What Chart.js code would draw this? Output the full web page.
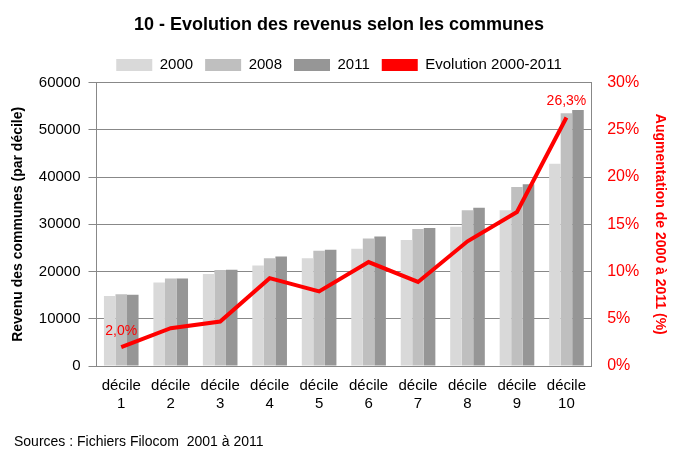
<!DOCTYPE html>
<html><head><meta charset="utf-8">
<script src="https://cdn.jsdelivr.net/npm/chart.js@4/dist/chart.umd.min.js"></script>
<style>body{margin:0;background:#fff}#wrap{width:678px;height:452px}</style>
</head><body><div id="wrap"><canvas id="c"></canvas></div>
<script>
const categories = ['1','2','3','4','5','6','7','8','9','10'];
const rev2000 = [14800,17700,19500,21300,22800,24800,26700,29500,33000,42800];
const rev2008 = [15200,18500,20300,22800,24400,27000,29000,33000,37900,53500];
const rev2011 = [15100,18500,20400,23200,24600,27400,29200,33500,38500,54200];
const evolution = [2.0,4.0,4.7,9.3,7.9,11.0,8.9,13.2,16.3,26.3];

const font = 'Liberation Sans';
Chart.defaults.font.family = font;
Chart.defaults.color = '#000';

const extras = {
  id: 'extras',
  afterDatasetsDraw(chart) {
    const ctx = chart.ctx;
    const meta = chart.getDatasetMeta(0);
    ctx.save();
    ctx.font = '14px ' + font;
    ctx.fillStyle = '#ff0000';
    ctx.textAlign = 'center';
    [0, evolution.length - 1].forEach(i => {
      const p = meta.data[i];
      ctx.fillText(evolution[i].toFixed(1).replace('.', ',') + '%', p.x, p.y - 16);
    });
    ctx.fillStyle = '#000';
    ctx.textAlign = 'left';
    ctx.fillText('Sources : Fichiers Filocom  2001 à 2011', 14, 442);
    ctx.restore();
  }
};

new Chart(document.getElementById('c'), {
  data: {
    labels: categories.map(c => ['décile', c]),
    datasets: [
      { type: 'line', label: 'Evolution 2000-2011', data: evolution, yAxisID: 'y1',
        borderColor: '#ff0000', backgroundColor: '#ff0000', borderWidth: 4, pointRadius: 0, tension: 0, order: 0 },
      { type: 'bar', label: '2000', data: rev2000, backgroundColor: '#d9d9d9', yAxisID: 'y', order: 1 },
      { type: 'bar', label: '2008', data: rev2008, backgroundColor: '#bfbfbf', yAxisID: 'y', order: 1 },
      { type: 'bar', label: '2011', data: rev2011, backgroundColor: '#969696', yAxisID: 'y', order: 1 }
    ]
  },
  options: {
    responsive: true, maintainAspectRatio: false, animation: false,
    layout: { padding: { left: 6, right: 6, top: 8, bottom: 36 } },
    datasets: { bar: { categoryPercentage: 0.7, barPercentage: 1 } },
    plugins: {
      title: { display: true, text: '10 - Evolution des revenus selon les communes',
        font: { size: 18, weight: 'bold' }, padding: { top: 6, bottom: 10 } },
      legend: { position: 'top',
        labels: { boxWidth: 36, boxHeight: 12, font: { size: 15 }, padding: 12,
          sort: (a, b) => (a.datasetIndex === 0) - (b.datasetIndex === 0),
          generateLabels(chart) {
            const items = Chart.defaults.plugins.legend.labels.generateLabels(chart);
            items.forEach(it => { if (it.datasetIndex === 0) { it.lineWidth = 0; it.fillStyle = '#ff0000'; } it.strokeStyle = 'transparent'; });
            return items;
          } } },
      tooltip: { enabled: false }
    },
    scales: {
      x: { grid: { display: false }, border: { color: '#888' }, ticks: { font: { size: 15 } } },
      y: { min: 0, max: 60000, ticks: { stepSize: 10000, font: { size: 15 }, callback: v => String(v), padding: 8 },
        grid: { color: '#888', drawTicks: true }, border: { color: '#888' },
        title: { display: true, text: 'Revenu des communes (par décile)', font: { size: 14, weight: 'bold' } } },
      y1: { position: 'right', min: 0, max: 30, grid: { display: false }, border: { color: '#888' },
        ticks: { stepSize: 5, color: '#ff0000', font: { size: 16 }, callback: v => v + '%', padding: 8 },
        title: { display: true, text: 'Augmentation de 2000 à 2011 (%)', color: '#ff0000', font: { size: 14, weight: 'bold' } } }
    }
  },
  plugins: [extras]
});
</script></body></html>
